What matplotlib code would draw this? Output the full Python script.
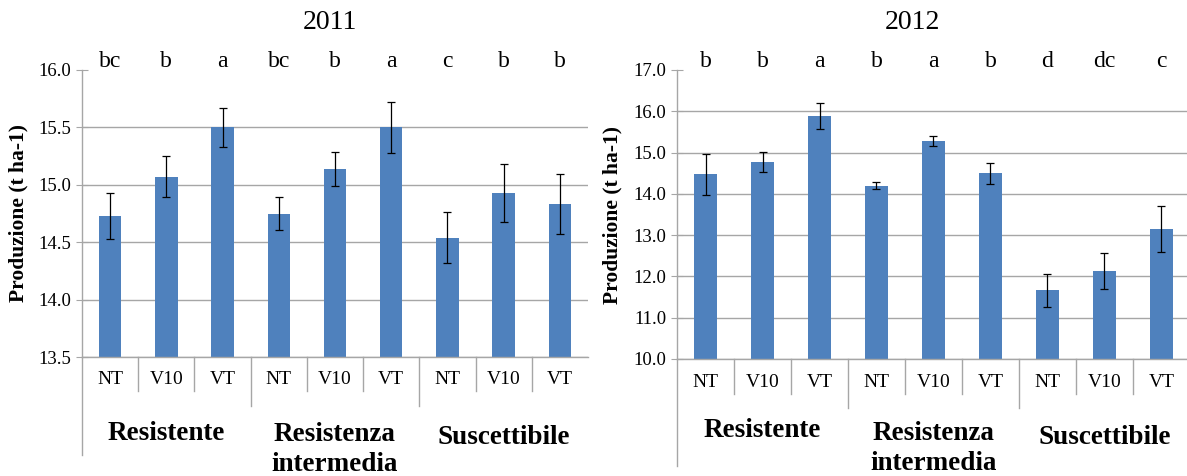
import numpy as np
import matplotlib
matplotlib.use("Agg")
import matplotlib.pyplot as plt
from matplotlib.transforms import blended_transform_factory

# ---- data -------------------------------------------------------------
treatments = ["NT", "V10", "VT"] * 3
groups = ["Resistente", "Resistenza\nintermedia", "Suscettibile"]

y2011 = [14.73, 15.07, 15.50, 14.75, 15.14, 15.50, 14.54, 14.93, 14.83]
e2011 = [0.20, 0.18, 0.17, 0.14, 0.15, 0.22, 0.22, 0.25, 0.26]
let2011 = ["bc", "b", "a", "bc", "b", "a", "c", "b", "b"]

y2012 = [14.47, 14.78, 15.89, 14.20, 15.28, 14.50, 11.67, 12.13, 13.15]
e2012 = [0.50, 0.24, 0.31, 0.08, 0.11, 0.25, 0.40, 0.43, 0.56]
let2012 = ["b", "b", "a", "b", "a", "b", "d", "dc", "c"]

BLUE = "#4F81BD"
GREY = "#A6A6A6"
SERIF = "Liberation Serif"

fig = plt.figure(figsize=(11.87, 4.76), dpi=100)


def panel(rect, vals, errs, letters, ylim, yticks, title, title_x, ylab_x, grp_y, axis_low):
    ax = fig.add_axes(rect)
    x = np.arange(len(vals))
    ax.bar(x, vals, width=0.4, color=BLUE, zorder=2)
    ax.errorbar(x, vals, yerr=errs, fmt="none", ecolor="black",
                elinewidth=0.9, capsize=3, capthick=0.9, zorder=3)
    ax.set_xlim(-0.5, len(vals) - 0.5)
    ax.set_ylim(*ylim)
    ax.set_yticks(yticks)
    ax.set_yticklabels([f"{v:.1f}" for v in yticks], fontfamily=SERIF, fontsize=13.5)
    ax.set_xticks([])
    for s in ("top", "right"):
        ax.spines[s].set_visible(False)
    for s in ("left", "bottom"):
        ax.spines[s].set_color(GREY)
        ax.spines[s].set_linewidth(1.0)
    ax.tick_params(axis="y", direction="inout", length=9, color=GREY, pad=3)
    ax.yaxis.grid(True, color=GREY, lw=1.0, zorder=0)
    ax.set_axisbelow(True)
    ax.get_ygridlines()[-1].set_visible(False)

    tr = blended_transform_factory(ax.transData, ax.transAxes)
    # significance letters
    for xi, l in zip(x, letters):
        ax.text(xi, 1.028, l, transform=tr, ha="center", va="center",
                fontfamily=SERIF, fontsize=17)
    # treatment labels
    for xi, t in zip(x, treatments):
        ax.text(xi, -0.08, t, transform=tr, ha="center", va="center",
                fontfamily=SERIF, fontsize=14)
    # separators
    for b in range(1, len(vals)):
        low = -0.17 if b % 3 == 0 else -0.12
        ax.plot([b - 0.5, b - 0.5], [0, low], transform=tr, color=GREY,
                lw=1.0, clip_on=False)
    ax.plot([-0.5, -0.5], [0, axis_low], transform=tr, color=GREY, lw=1.0, clip_on=False)
    # group labels
    for gi, (g, gy) in enumerate(zip(groups, grp_y)):
        ax.text(3 * gi + 1, gy, g, transform=tr, ha="center", va="center",
                fontfamily=SERIF, fontweight="bold", fontsize=19.5, linespacing=1.3)

    fig.text(title_x, 0.953, title, ha="center", va="center",
             fontfamily=SERIF, fontsize=20)
    fig.text(ylab_x, rect[1] + rect[3] / 2, "Produzione (t ha-1)", rotation=90,
             ha="center", va="center", fontfamily=SERIF, fontweight="bold",
             fontsize=15.5)
    return ax


panel([82 / 1187, 119 / 476, 506 / 1187, 287 / 476], y2011, e2011, let2011,
      (13.5, 16.0), [13.5, 14.0, 14.5, 15.0, 15.5, 16.0], "2011",
      330 / 1187, 18 / 1187, [-0.265, -0.322, -0.279], -0.34)

panel([677 / 1187, 117 / 476, 513 / 1187, 289 / 476], y2012, e2012, let2012,
      (10.0, 17.0), [10.0, 11.0, 12.0, 13.0, 14.0, 15.0, 16.0, 17.0], "2012",
      912 / 1187, 612 / 1187, [-0.246, -0.31, -0.273], -0.37)

fig.savefig("out.png", dpi=100)
